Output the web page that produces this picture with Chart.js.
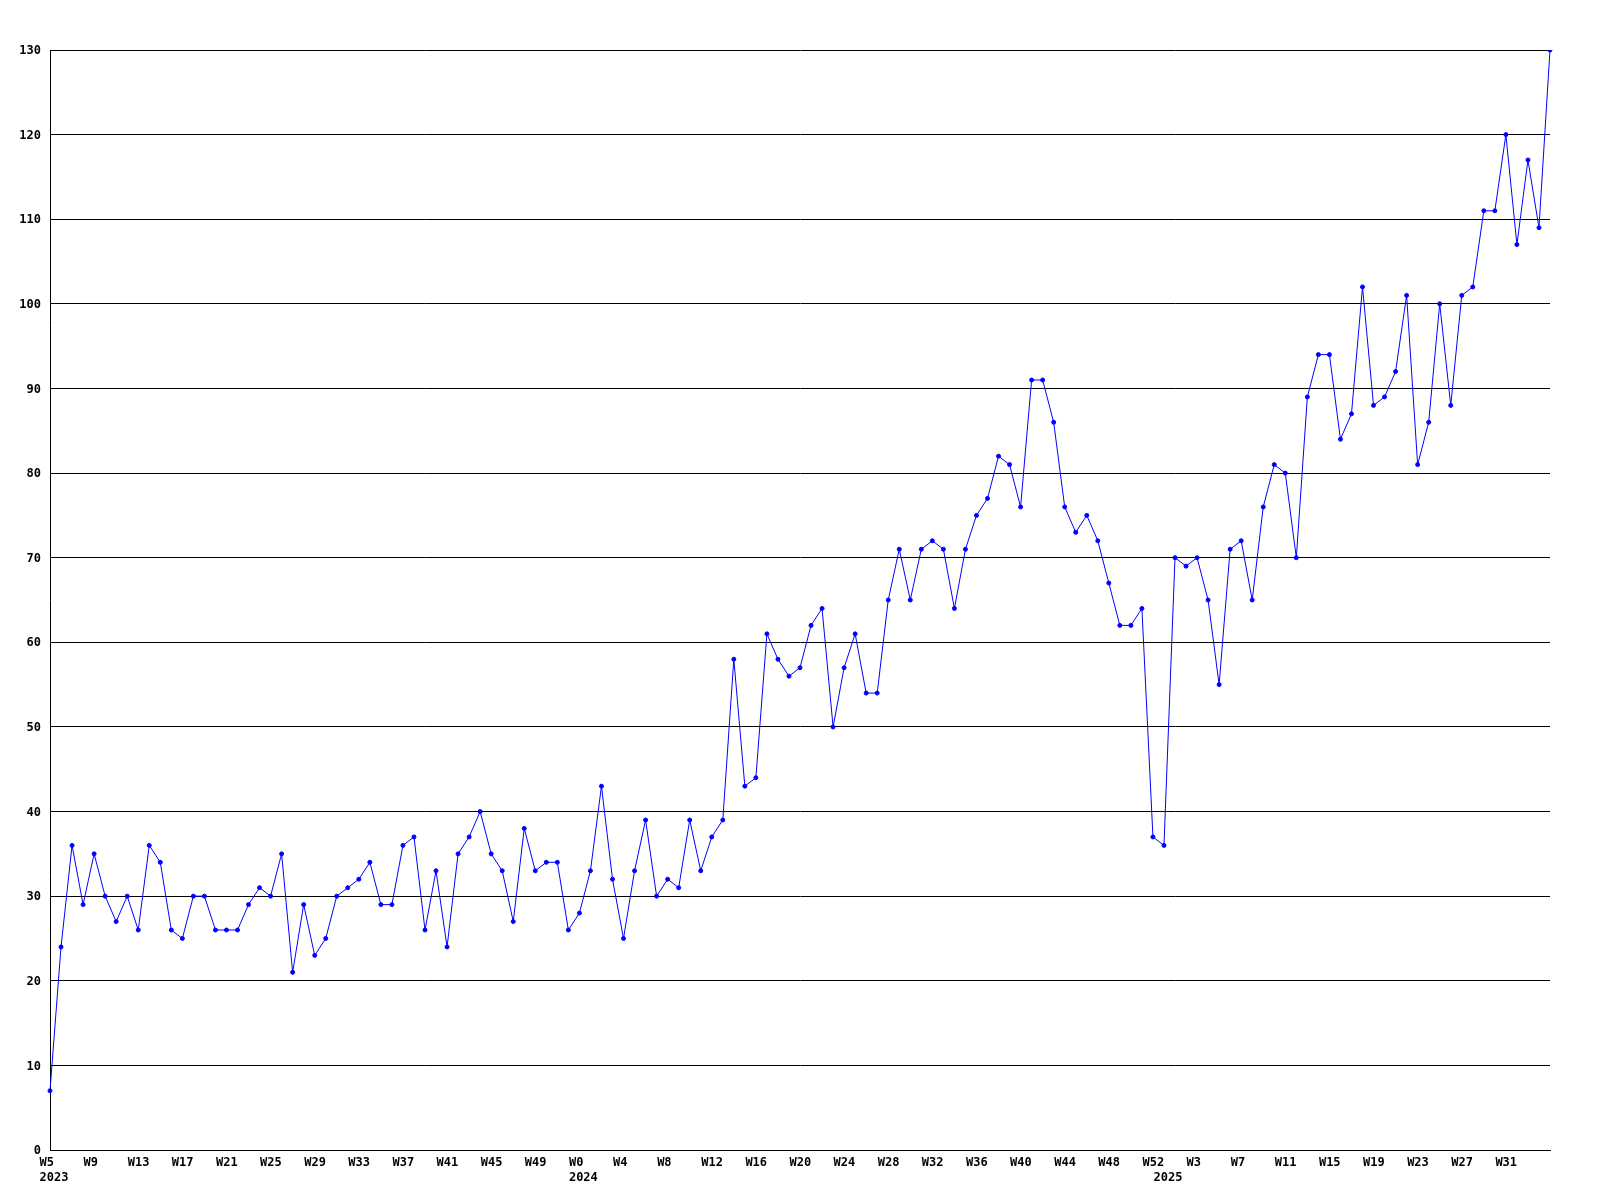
<!DOCTYPE html>
<html>
<head>
<meta charset="utf-8">
<script src="https://cdn.jsdelivr.net/npm/chart.js@4/dist/chart.umd.min.js"></script>
<style>
  html, body { margin: 0; padding: 0; background: #ffffff; }
  canvas { display: block; }
</style>
</head>
<body>
<canvas id="c" width="1600" height="1200"></canvas>
<script>
// ---- Data (weekly counts) ----
const years = [2023, 2024, 2025];
const firstWeek = [5, 0, 0];
const lastWeek = [52, 52, 35];

const values2023 = [7, 24, 36, 29, 35, 30, 27, 30, 26, 36, 34, 26, 25, 30, 30, 26, 26, 26, 29, 31, 30, 35, 21, 29,
                    23, 25, 30, 31, 32, 34, 29, 29, 36, 37, 26, 33, 24, 35, 37, 40, 35, 33, 27, 38, 33, 34, 34, 26];
const values2024 = [28, 33, 43, 32, 25, 33, 39, 30, 32, 31, 39, 33, 37, 39, 58, 43, 44, 61, 58, 56, 57, 62, 64, 50,
                    57, 61, 54, 54, 65, 71, 65, 71, 72, 71, 64, 71, 75, 77, 82, 81, 76, 91, 91, 86, 76, 73, 75, 72,
                    67, 62, 62, 64, 37];
const values2025 = [36, 70, 69, 70, 65, 55, 71, 72, 65, 76, 81, 80, 70, 89, 94, 94, 84, 87, 102, 88, 89, 92, 101, 81,
                    86, 100, 88, 101, 102, 111, 111, 120, 107, 117, 109, 130];

const yMin = 0, yMax = 130, yStep = 10;
const labelEvery = 4;

// ---- Build categories ----
const weekLabels = [];
const yearOfLabel = [];
years.forEach((y, k) => {
  for (let w = firstWeek[k]; w <= lastWeek[k]; w++) {
    weekLabels.push('W' + w);
    yearOfLabel.push(y);
  }
});
const values = values2023.concat(values2024, values2025);

Chart.defaults.font.family = '"DejaVu Sans Mono", "Liberation Mono", monospace';
Chart.defaults.font.weight = 'bold';
Chart.defaults.font.size = 12;
Chart.defaults.color = '#000000';

new Chart(document.getElementById('c'), {
  type: 'line',
  data: {
    labels: weekLabels,
    datasets: [{
      data: values,
      borderColor: '#0000ff',
      borderWidth: 1,
      backgroundColor: '#0000ff',
      pointBackgroundColor: '#0000ff',
      pointBorderColor: '#0000ff',
      pointRadius: 2,
      pointBorderWidth: 1,
      pointStyle: 'circle',
      tension: 0,
      fill: false
    }]
  },
  options: {
    responsive: false,
    animation: false,
    events: [],
    layout: { padding: { top: 50, right: 50, left: 0, bottom: 0 } },
    plugins: { legend: { display: false }, tooltip: { enabled: false } },
    scales: {
      x: {
        type: 'category',
        offset: false,
        grid: { display: false, drawTicks: false },
        border: { display: true, color: '#000000', width: 1 },
        afterFit: (s) => { s.height = 50; },
        ticks: {
          autoSkip: false,
          maxRotation: 0,
          minRotation: 0,
          align: 'start',
          labelOffset: -10.5,
          padding: 5,
          font: { size: 12, weight: 'bold', lineHeight: '15px' },
          callback: function (value, index) {
            const isWeekTick = index % labelEvery === 0 && index < weekLabels.length - 1;
            const isYearStart = index === 0 || yearOfLabel[index] !== yearOfLabel[index - 1];
            const first = isWeekTick ? weekLabels[index] : '';
            if (isYearStart) return [first, String(yearOfLabel[index])];
            return first;
          }
        }
      },
      y: {
        min: yMin,
        max: yMax,
        grid: { display: true, color: '#000000', lineWidth: 1, drawTicks: false },
        border: { display: true, color: '#000000', width: 1 },
        afterFit: (s) => { s.width = 50; },
        ticks: {
          stepSize: yStep,
          padding: 9,
          labelOffset: 1,
          font: { size: 12, weight: 'bold' }
        }
      }
    }
  }
});
</script>
</body>
</html>
